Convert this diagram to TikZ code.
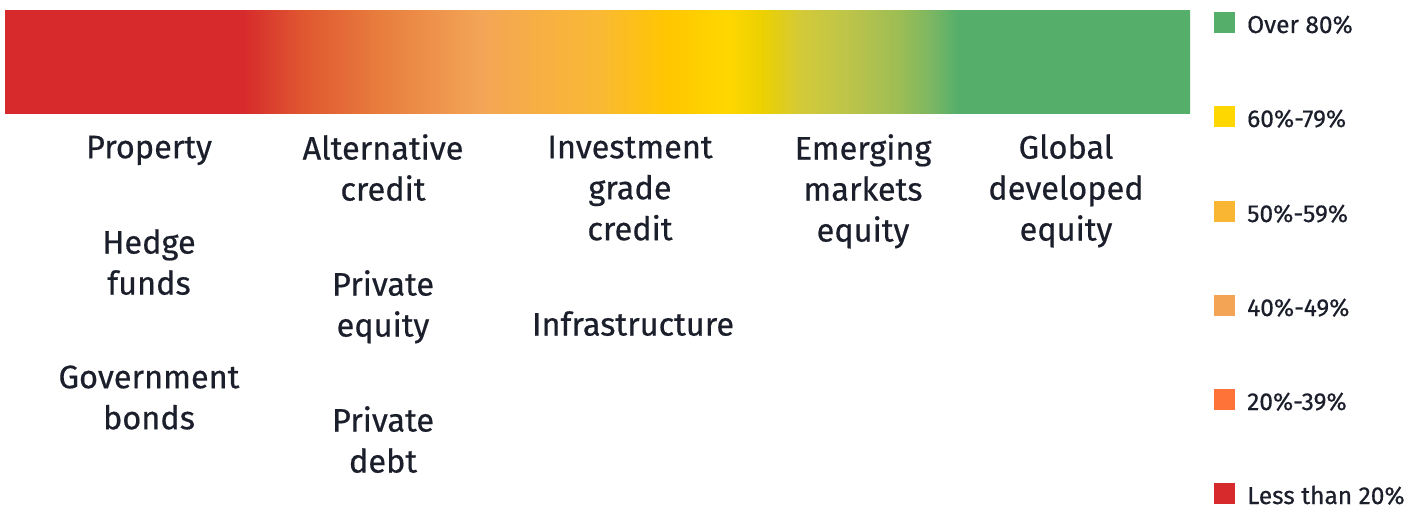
\documentclass[tikz,border=0pt]{standalone}
\usepackage{fontspec}
\setmainfont{Fira Sans}[FakeBold=0.5]
\begin{document}
\begin{tikzpicture}[x=1pt,y=-1pt,
  lbl/.style={font=\fontsize{32.5}{41}\selectfont, align=center, anchor=north,
    inner sep=0pt, text=ink},
  swatch/.style={minimum size=21pt, inner sep=0pt, anchor=north west},
  key/.style={font=\fontsize{24.5}{28}\selectfont, anchor=base west, inner sep=0pt, text=ink}]
\definecolor{ink}{HTML}{1B1E2B}
\definecolor{gA}{HTML}{D62A2C}
\definecolor{gB}{HTML}{DF5530}
\definecolor{gC}{HTML}{E77A3C}
\definecolor{gD}{HTML}{F3A557}
\definecolor{gE}{HTML}{F7AE45}
\definecolor{gF}{HTML}{F9B934}
\definecolor{gG}{HTML}{FFC600}
\definecolor{gH}{HTML}{FFD700}
\definecolor{gI}{HTML}{EBD000}
\definecolor{gJ}{HTML}{D4CA38}
\definecolor{gK}{HTML}{BCC44A}
\definecolor{gL}{HTML}{9CBD55}
\definecolor{gM}{HTML}{79B663}
\definecolor{gN}{HTML}{55AF6A}
\definecolor{kGreen}{HTML}{55AF6A}
\definecolor{kYellow}{HTML}{FFD700}
\definecolor{kAmber}{HTML}{F9B632}
\definecolor{kLight}{HTML}{F4A455}
\definecolor{kOrange}{HTML}{FE7438}
\definecolor{kRed}{HTML}{D62A2C}
\newcommand\firstline{\rule{0pt}{24pt}}
\useasboundingbox (0,0) rectangle (1424,508);
\fill[white] (0,0) rectangle (1424,508);

% colour scale bar, built from shaded segments clipped to the bar
\begin{scope}
\clip (5,11) rectangle (1190,114);
\fill[gA] (0,0) rectangle (243.5,120);
\foreach \xa/\xb/\ca/\cb in {243/300/gA/gB, 300/373/gB/gC, 373/480/gC/gD,
    480/533/gD/gE, 533/600/gE/gF, 600/667/gF/gG, 667/727/gG/gH,
    727/763/gH/gI, 763/800/gI/gJ, 800/850/gJ/gK, 850/900/gK/gL,
    900/933/gL/gM, 933/957/gM/gN}
  \shade[left color=\ca, right color=\cb] (\xa-0.4,0) rectangle (\xb+0.4,120);
\fill[gN] (956.5,0) rectangle (1200,120);
\end{scope}

% asset classes
\node[lbl] (property)   at (149,134) {\firstline Property};
\node[lbl] (hedge)      at (149,229) {\firstline Hedge\\funds};
\node[lbl] (govbonds)   at (149,364) {\firstline Government\\bonds};
\node[lbl] (altcredit)  at (383,134) {\firstline Alternative\\credit};
\node[lbl] (privequity) at (383,270) {\firstline Private\\equity};
\node[lbl] (privdebt)   at (383,406) {\firstline Private\\debt};
\node[lbl] (igcredit)   at (630,134) {\firstline Investment\\grade\\credit};
\node[lbl] (infra)      at (633,311) {\firstline Infrastructure};
\node[lbl] (emequity)   at (863,134) {\firstline Emerging\\markets\\equity};
\node[lbl] (gdequity)   at (1066,134) {\firstline Global\\developed\\equity};

% legend
\node[swatch, fill=kGreen]  (s1) at (1214,12)  {};
\node[swatch, fill=kYellow] (s2) at (1214,106) {};
\node[swatch, fill=kAmber]  (s3) at (1214,201) {};
\node[swatch, fill=kLight]  (s4) at (1214,295) {};
\node[swatch, fill=kOrange] (s5) at (1214,389) {};
\node[swatch, fill=kRed]    (s6) at (1214,483) {};
\node[key] (k1) at (1247,33)  {Over 80\%};
\node[key] (k2) at (1247,127) {60\%-79\%};
\node[key] (k3) at (1247,222) {50\%-59\%};
\node[key] (k4) at (1247,316) {40\%-49\%};
\node[key] (k5) at (1247,410) {20\%-39\%};
\node[key] (k6) at (1247,504) {Less than 20\%};
\end{tikzpicture}
\end{document}
